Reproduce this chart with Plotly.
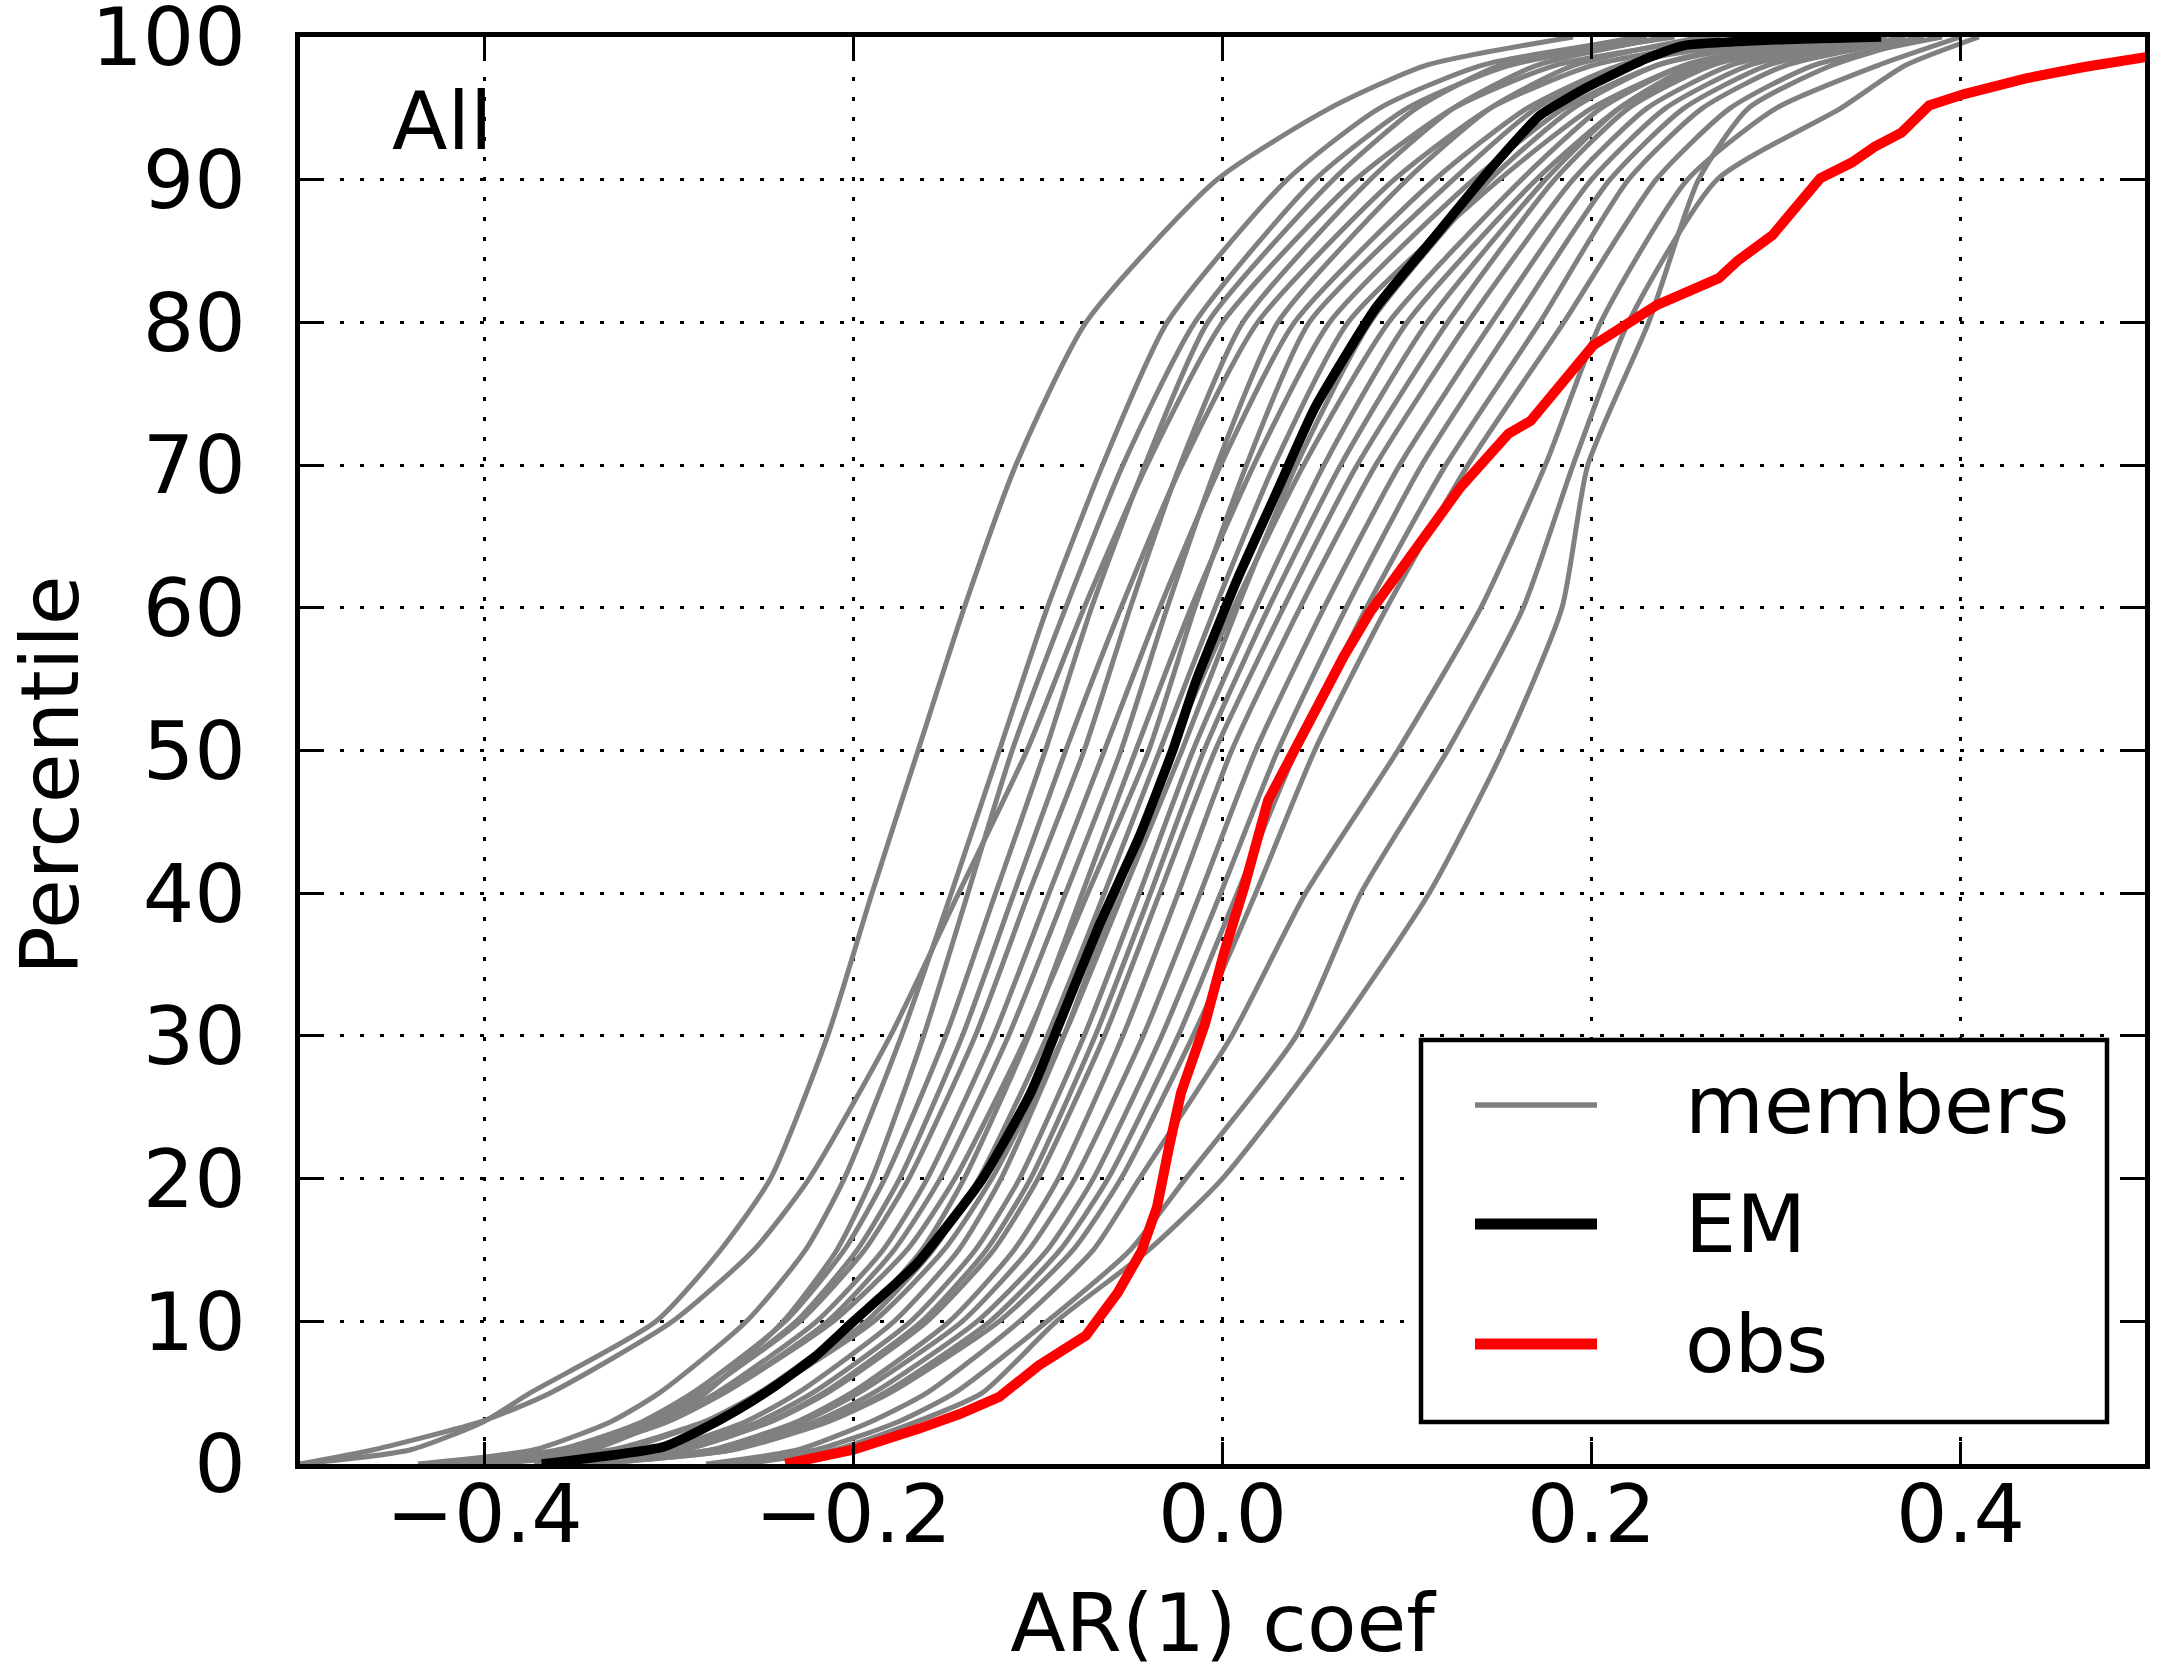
import plotly.graph_objects as go

# ---------------- data ----------------
# percentile levels at which every ensemble member is sampled
PCT = [0, 1, 3, 5, 10, 15, 20, 30, 40, 50, 60, 70, 80, 90, 95, 98, 100]

# AR(1) coefficient of each member at the PCT levels
m01 = [-0.500, -0.440, -0.400, -0.375, -0.307, -0.272, -0.245, -0.214, -0.190, -0.165, -0.140, -0.112, -0.074, -0.003, 0.058, 0.110, 0.190]
m02 = [-0.436, -0.373, -0.331, -0.305, -0.258, -0.226, -0.205, -0.174, -0.147, -0.121, -0.095, -0.065, -0.030, 0.035, 0.085, 0.140, 0.230]
m03 = [-0.399, -0.342, -0.304, -0.280, -0.238, -0.209, -0.190, -0.162, -0.138, -0.114, -0.085, -0.054, -0.015, 0.050, 0.100, 0.155, 0.245]
m04 = [-0.500, -0.460, -0.401, -0.364, -0.298, -0.254, -0.224, -0.180, -0.143, -0.106, -0.075, -0.041, 0.000, 0.072, 0.125, 0.180, 0.270]
m05 = [-0.422, -0.357, -0.314, -0.287, -0.237, -0.205, -0.183, -0.150, -0.123, -0.096, -0.071, -0.042, -0.008, 0.060, 0.105, 0.150, 0.225]
m06 = [-0.423, -0.355, -0.310, -0.282, -0.231, -0.198, -0.175, -0.141, -0.113, -0.085, -0.055, -0.022, 0.019, 0.093, 0.145, 0.200, 0.285]
m07 = [-0.431, -0.360, -0.313, -0.283, -0.229, -0.194, -0.170, -0.134, -0.105, -0.075, -0.050, -0.023, 0.011, 0.080, 0.125, 0.170, 0.240]
m08 = [-0.424, -0.352, -0.304, -0.274, -0.220, -0.184, -0.160, -0.124, -0.094, -0.064, -0.034, -0.001, 0.039, 0.115, 0.165, 0.215, 0.300]
m09 = [-0.423, -0.349, -0.300, -0.270, -0.214, -0.178, -0.153, -0.116, -0.085, -0.055, -0.030, -0.003, 0.030, 0.100, 0.145, 0.190, 0.260]
m10 = [-0.396, -0.326, -0.280, -0.251, -0.198, -0.163, -0.140, -0.105, -0.076, -0.047, -0.017, 0.017, 0.058, 0.136, 0.185, 0.235, 0.310]
m11 = [-0.434, -0.355, -0.303, -0.270, -0.211, -0.171, -0.145, -0.106, -0.073, -0.040, -0.015, 0.013, 0.047, 0.125, 0.170, 0.215, 0.290]
m12 = [-0.402, -0.328, -0.279, -0.249, -0.193, -0.157, -0.132, -0.095, -0.064, -0.034, -0.004, 0.028, 0.068, 0.150, 0.200, 0.250, 0.320]
m13 = [-0.373, -0.304, -0.258, -0.230, -0.178, -0.143, -0.120, -0.086, -0.057, -0.028, 0.006, 0.044, 0.090, 0.162, 0.205, 0.250, 0.320]
m14 = [-0.408, -0.331, -0.280, -0.248, -0.189, -0.151, -0.125, -0.086, -0.054, -0.022, 0.008, 0.040, 0.080, 0.145, 0.190, 0.235, 0.300]
m15 = [-0.369, -0.298, -0.251, -0.222, -0.169, -0.134, -0.110, -0.075, -0.045, -0.016, 0.018, 0.055, 0.100, 0.170, 0.215, 0.260, 0.330]
m16 = [-0.363, -0.292, -0.245, -0.216, -0.163, -0.128, -0.104, -0.069, -0.039, -0.010, 0.025, 0.064, 0.111, 0.175, 0.215, 0.255, 0.320]
m17 = [-0.364, -0.292, -0.244, -0.214, -0.160, -0.124, -0.100, -0.064, -0.034, -0.004, 0.033, 0.073, 0.122, 0.180, 0.220, 0.265, 0.340]
m18 = [-0.348, -0.277, -0.230, -0.201, -0.148, -0.113, -0.089, -0.054, -0.024, 0.005, 0.042, 0.083, 0.133, 0.190, 0.230, 0.275, 0.350]
m19 = [-0.350, -0.276, -0.227, -0.197, -0.141, -0.105, -0.080, -0.043, -0.012, 0.018, 0.055, 0.096, 0.146, 0.200, 0.240, 0.285, 0.360]
m20 = [-0.345, -0.270, -0.220, -0.189, -0.133, -0.095, -0.070, -0.033, -0.001, 0.030, 0.067, 0.108, 0.158, 0.210, 0.250, 0.295, 0.370]
m21 = [-0.343, -0.266, -0.215, -0.183, -0.126, -0.088, -0.062, -0.024, 0.008, 0.040, 0.078, 0.121, 0.172, 0.220, 0.260, 0.305, 0.380]
m22 = [-0.344, -0.265, -0.213, -0.180, -0.121, -0.081, -0.055, -0.016, 0.018, 0.050, 0.089, 0.133, 0.185, 0.235, 0.275, 0.320, 0.390]
m23 = [-0.280, -0.230, -0.190, -0.160, -0.110, -0.070, -0.045, 0.005, 0.045, 0.095, 0.140, 0.175, 0.205, 0.252, 0.300, 0.355, 0.400]
m24 = [-0.270, -0.220, -0.175, -0.145, -0.095, -0.050, -0.020, 0.040, 0.075, 0.122, 0.163, 0.190, 0.220, 0.268, 0.335, 0.370, 0.410]
m25 = [-0.260, -0.210, -0.165, -0.130, -0.090, -0.040, 0.000, 0.060, 0.112, 0.152, 0.184, 0.198, 0.231, 0.258, 0.285, 0.330, 0.380]
MEMBERS = [m01, m02, m03, m04, m05, m06, m07, m08, m09, m10, m11, m12, m13,
           m14, m15, m16, m17, m18, m19, m20, m21, m22, m23, m24, m25]

# ensemble mean (EM)
EM_PCT = [0, 1.2, 2.5, 3.7, 5.5, 7.5, 10, 14, 20, 26, 31, 38, 44, 50, 55, 62, 68, 74,
          81, 86, 91, 94.5, 96.5, 98.5, 99.4, 99.8, 100]
EM_X = [-0.369, -0.303, -0.281, -0.264, -0.242, -0.221, -0.200, -0.166, -0.130, -0.104,
        -0.088, -0.066, -0.045, -0.027, -0.014, 0.008, 0.029, 0.050, 0.083, 0.115,
        0.147, 0.172, 0.198, 0.230, 0.250, 0.300, 0.357]

# observations (obs)
OBS_PCT = [0, 1, 2.5, 3.5, 4.7, 6, 6.9, 9, 12, 14.9, 18, 22.2, 26, 29.2, 30.8, 35.9,
           40.4, 46.5, 52.5, 56.6, 59.7, 66.8, 68.4, 72.2, 73.1, 78.4, 80, 81.2, 83.1,
           84.3, 86.1, 88.2, 90.1, 91.2, 92.3, 93.3, 95.2, 96, 97.1, 97.9, 98.6]
OBS_X = [-0.237, -0.200, -0.164, -0.1425, -0.121, -0.108, -0.0997, -0.074, -0.0568,
         -0.044, -0.0355, -0.029, -0.0225, -0.0139, -0.0096, 0.001, 0.0117, 0.0247,
         0.0488, 0.0657, 0.080, 0.119, 0.1287, 0.155, 0.167, 0.201, 0.2206, 0.2353,
         0.269, 0.279, 0.298, 0.311, 0.324, 0.341, 0.3534, 0.368, 0.383, 0.402,
         0.4355, 0.467, 0.501]

X_TICKS = [-0.4, -0.2, 0.0, 0.2, 0.4]
X_TICKTEXT = ["\u22120.4", "\u22120.2", "0.0", "0.2", "0.4"]
Y_TICKS = [0, 10, 20, 30, 40, 50, 60, 70, 80, 90, 100]
LEGEND_NAMES = ["members", "EM", "obs"]
PANEL_LABEL = "All"
X_TITLE = "AR(1) coef"
Y_TITLE = "Percentile"

# ---------------- style ----------------
FONT = "DejaVu Sans"
FS = 81
GRAY = "#808080"
W, H = 2159, 1670
L, R, T, B = 300, 14, 37, 206
PW, PH = W - L - R, H - T - B


def px(xpix):
    return (xpix - L) / PW


def py(ypix):
    return (H - B - ypix) / PH


fig = go.Figure()
for m in MEMBERS:
    fig.add_trace(go.Scatter(x=m, y=PCT, mode="lines", name=LEGEND_NAMES[0],
                             line=dict(color=GRAY, width=5, shape="spline", smoothing=0.6),
                             showlegend=False, hoverinfo="skip"))
fig.add_trace(go.Scatter(x=EM_X, y=EM_PCT, mode="lines", name=LEGEND_NAMES[1],
                         line=dict(color="black", width=9.5, shape="spline", smoothing=0.5),
                         showlegend=False))
fig.add_trace(go.Scatter(x=OBS_X, y=OBS_PCT, mode="lines", name=LEGEND_NAMES[2],
                         line=dict(color="#ff0000", width=10), showlegend=False))

axis_common = dict(
    showline=True, linecolor="black", linewidth=5, mirror="allticks",
    ticks="inside", ticklen=22, tickwidth=2.5, tickcolor="black",
    showgrid=True, gridcolor="black", gridwidth=2.5, griddash="4px,16px",
    zeroline=False, ticklabeloverflow="allow",
    tickfont=dict(family=FONT, size=FS, color="black"),
)

fig.update_xaxes(range=[-0.5, 0.5], tickvals=X_TICKS, ticktext=X_TICKTEXT,
                 title=dict(text=X_TITLE, font=dict(family=FONT, size=FS, color="black"),
                            standoff=44),
                 ticklabelstandoff=-24, **axis_common)
fig.update_yaxes(range=[0, 100], tickvals=Y_TICKS, ticklabelstandoff=33, **axis_common)

# legend (drawn like the matplotlib legend box)
bx0, bx1, by0, by1 = 1421, 2107, 1040, 1422
shapes = [dict(type="rect", xref="paper", yref="paper", x0=px(bx0), x1=px(bx1),
               y0=py(by1), y1=py(by0), line=dict(color="black", width=4.5),
               fillcolor="white", layer="above")]
rows = [(1105, GRAY, 5.5), (1224, "black", 11), (1344, "#ff0000", 11)]
annotations = []
for (yy, col, lw), name in zip(rows, LEGEND_NAMES):
    shapes.append(dict(type="line", xref="paper", yref="paper", x0=px(1475), x1=px(1597),
                       y0=py(yy), y1=py(yy), line=dict(color=col, width=lw), layer="above"))
    annotations.append(dict(text=name, xref="paper", yref="paper", x=px(1683), y=py(yy),
                            xanchor="left", yanchor="middle", showarrow=False,
                            font=dict(family=FONT, size=FS, color="black")))

annotations.append(dict(text=PANEL_LABEL, xref="paper", yref="paper", x=px(390), y=py(121),
                        xanchor="left", yanchor="middle", showarrow=False,
                        font=dict(family=FONT, size=FS, color="black")))
# y-axis title
annotations.append(dict(text=Y_TITLE, xref="paper", yref="paper", x=px(50), y=py(775),
                        xanchor="center", yanchor="middle", textangle=-90, showarrow=False,
                        font=dict(family=FONT, size=FS, color="black")))

fig.update_layout(width=W, height=H, margin=dict(l=L, r=R, t=T, b=B, autoexpand=False),
                  paper_bgcolor="white", plot_bgcolor="white", showlegend=False,
                  shapes=shapes, annotations=annotations,
                  font=dict(family=FONT, size=FS, color="black"))

fig.write_html("out.html")
